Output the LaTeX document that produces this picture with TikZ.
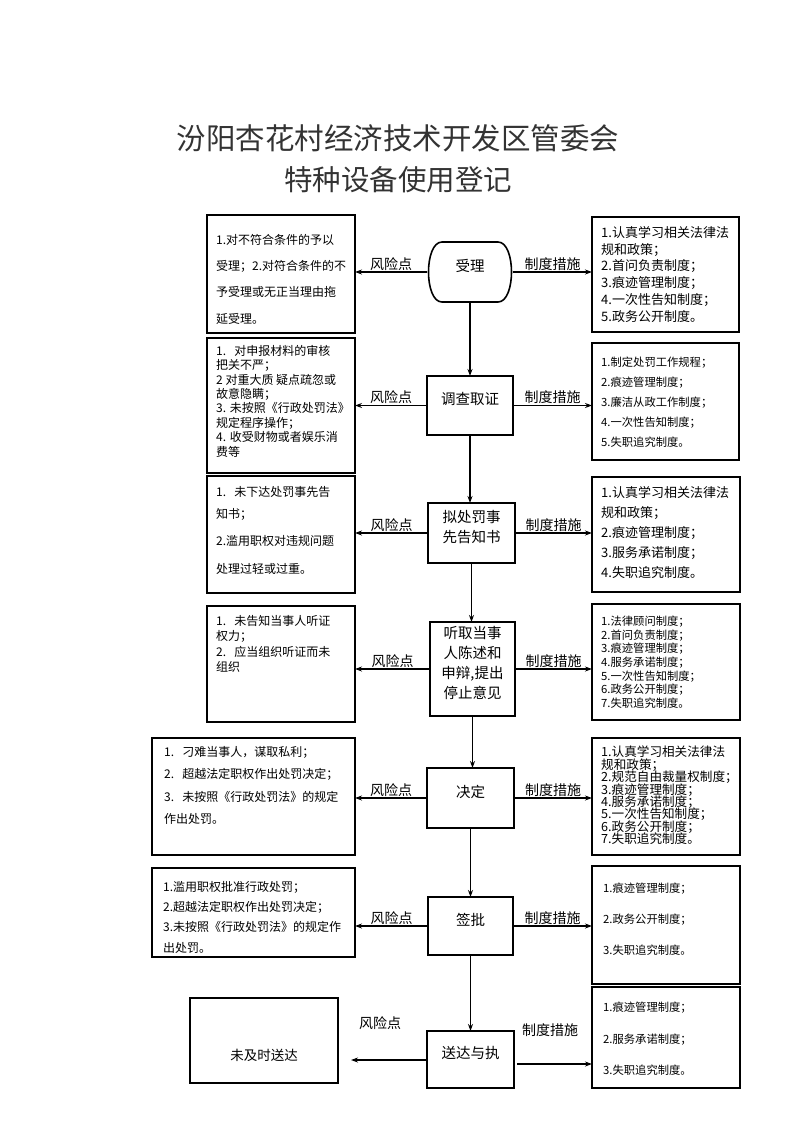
\documentclass[tikz,border=0pt]{standalone}
\usepackage{fontspec}
\newfontfamily\cjk{Noto Sans CJK SC}
\usetikzlibrary{arrows.meta,fit}
\newcommand\tight{\lineskiplimit=-30pt\lineskip=0pt\relax}
\begin{document}
\begin{tikzpicture}[x=1pt,y=-1pt,
  box/.style={draw, line width=1.6pt, inner sep=0pt, outer sep=0pt},
  ctr/.style={box, align=center, font=\cjk\fontsize{14.5}{20}\selectfont\tight},
  hid/.style={inner sep=0pt, outer sep=0pt, align=center, font=\cjk\fontsize{14.5}{20}\selectfont},
  txt/.style={anchor=north west, inner sep=0pt, align=left, font=\cjk\fontsize{12}{#1}\selectfont\tight},
  txtb/.style={anchor=north west, inner sep=0pt, align=left, font=\cjk\fontsize{13}{#1}\selectfont\tight},
  txts/.style={anchor=north west, inner sep=0pt, align=left, font=\cjk\fontsize{11.3}{#1}\selectfont\tight},
  arr/.style={-{Stealth[length=7pt,width=5pt]}, line width=1.1pt},
  lab/.style={font=\cjk\fontsize{14}{14}\selectfont, anchor=south, inner sep=1pt},
  labf/.style={font=\cjk\fontsize{14}{14}\selectfont, inner sep=0pt}]
\useasboundingbox (0,0) rectangle (793,1122);

% title
\node[font=\cjk\fontsize{29.5}{30}\selectfont, text=black!80] (t1) at (398,138) {汾阳杏花村经济技术开发区管委会};
\node[font=\cjk\fontsize{28.5}{29}\selectfont, text=black!80] (t2) at (398,180) {特种设备使用登记};

% ---------- row 1
\node[hid, fit={(427,242)(513,302)}] (C1) {受理};
\draw[line width=1.6pt] (442,242) -- (498,242) .. controls (516,242) and (516,302) .. (498,302)
  -- (442,302) .. controls (424,302) and (424,242) .. (442,242) -- cycle;
\node[box, fit={(207,215)(355,333)}] (L1) {};
\node[box, fit={(592,217)(739,332)}] (R1) {};
\node[txt=26.3, font=\cjk\fontsize{12}{26.3}\selectfont\tight] (l1) at (216,234) {1.对不符合条件的予以\\受理；2.对符合条件的不\\予受理或无正当理由拖\\延受理。};
\node[txtb=16.8] (r1) at (601,226) {1.认真学习相关法律法\\规和政策；\\2.首问负责制度；\\3.痕迹管理制度；\\4.一次性告知制度；\\5.政务公开制度。};

% ---------- row 2
\node[ctr, fit={(427,376)(513,435)}] (C2) {调查取证};
\node[box, fit={(207,338)(355,473)}] (L2) {};
\node[box, fit={(592,343)(739,460)}] (R2) {};
\node[txt=14.4] (l2) at (216,345) {1.\ \ \ 对申报材料的审核\\把关不严；\\2 对重大质 疑点疏忽或\\故意隐瞒；\\3. 未按照《行政处罚法》\\规定程序操作；\\4. 收受财物或者娱乐消\\费等};
\node[txts=20] (r2) at (601,357) {1.制定处罚工作规程；\\2.痕迹管理制度；\\3.廉洁从政工作制度；\\4.一次性告知制度；\\5.失职追究制度。};

% ---------- row 3
\node[ctr, fit={(428,503)(515,563)}] (C3) {拟处罚事\\先告知书};
\node[box, fit={(207,476)(355,593)}] (L3) {};
\node[box, fit={(592,477)(740,592)}] (R3) {};
\node[txt=22] (l3) at (216,486) {1.\ \ \ 未下达处罚事先告\\知书；\\[5pt]2.滥用职权对违规问题\\[6pt]处理过轻或过重。};
\node[txtb=20] (r3) at (601,486) {1.认真学习相关法律法\\规和政策；\\2.痕迹管理制度；\\3.服务承诺制度；\\4.失职追究制度。};

% ---------- row 4
\node[ctr, fit={(430,622)(515,716)}] (C4) {听取当事\\人陈述和\\申辩,提出\\停止意见};
\node[box, fit={(207,606)(355,722)}] (L4) {};
\node[box, fit={(592,604)(740,720)}] (R4) {};
\node[txt=15.5] (l4) at (216,615) {1.\ \ \ 未告知当事人听证\\权力；\\2.\ \ \ 应当组织听证而未\\组织};
\node[txts=13.6] (r4) at (601,616) {1.法律顾问制度；\\2.首问负责制度；\\3.痕迹管理制度；\\4.服务承诺制度；\\5.一次性告知制度；\\6.政务公开制度；\\7.失职追究制度。};

% ---------- row 5
\node[ctr, fit={(427,768)(514,828)}] (C5) {决定};
\node[box, fit={(152,738)(355,855)}] (L5) {};
\node[box, fit={(592,738)(740,855)}] (R5) {};
\node[txt=22.5] (l5) at (164,746) {1.\ \ \ 刁难当事人，谋取私利；\\2.\ \ \ 超越法定职权作出处罚决定；\\3.\ \ \ 未按照《行政处罚法》的规定\\作出处罚。};
\node[anchor=north west, inner sep=0pt, align=left, font=\cjk\fontsize{12.6}{12.4}\selectfont\tight] (r5) at (601,746) {1.认真学习相关法律法\\规和政策；\\2.规范自由裁量权制度；\\3.痕迹管理制度；\\4.服务承诺制度；\\5.一次性告知制度；\\6.政务公开制度；\\7.失职追究制度。};

% ---------- row 6
\node[ctr, fit={(428,897)(513,955)}] (C6) {签批};
\node[box, fit={(152,868)(355,957)}] (L6) {};
\node[box, fit={(592,866)(740,984)}] (R6) {};
\node[txt=20.3] (l6) at (163,881) {1.滥用职权批准行政处罚；\\2.超越法定职权作出处罚决定；\\3.未按照《行政处罚法》的规定作\\出处罚。};
\node[txts=31] (r6) at (603,883) {1.痕迹管理制度；\\2.政务公开制度；\\3.失职追究制度。};

% ---------- row 7
\node[ctr, fit={(427,1031)(514,1088)}] (C7) {送达与执};
\node[box, fit={(190,998)(338,1083)}] (L7) {};
\node[font=\cjk\fontsize{13.5}{16}\selectfont, inner sep=0pt] (l7) at (264,1055) {未及时送达};
\node[box, fit={(592,987)(740,1088)}] (R7) {};
\node[txts=31.5] (r7) at (603,1002) {1.痕迹管理制度；\\2.服务承诺制度；\\3.失职追究制度。};

% ---------- vertical connectors
\draw[arr] (C1.south) -- (C1.south |- C2.north);
\draw[arr] (C2.south) -- (C2.south |- C3.north);
\draw[arr] (C3.south) -- (C3.south |- C4.north);
\draw[arr] (C4.south) -- (C4.south |- C5.north);
\draw[arr] (C5.south) -- (C5.south |- C6.north);
\draw[arr] (C6.south) -- (C6.south |- C7.north);

% ---------- horizontal connectors
\foreach \i in {1,...,6}{
  \draw[arr] (C\i.west) -- node[lab]{风险点} (C\i.west -| L\i.east);
  \draw[arr] (C\i.east) -- node[lab]{制度措施} (C\i.east -| R\i.west);
}
\coordinate (e7) at (351,1060);
\draw[arr] (C7.west |- e7) -- (e7);
\coordinate (f7) at (517,1064);
\draw[arr] (f7) -- (f7 -| R7.west);
\node[labf] (k7) at (380,1023) {风险点};
\node[labf] (m7) at (550,1030) {制度措施};
\end{tikzpicture}
\end{document}
